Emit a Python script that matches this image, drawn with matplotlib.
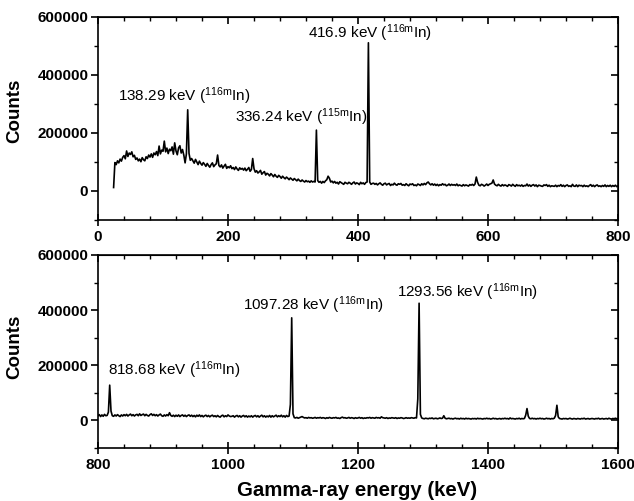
import numpy as np
import matplotlib
matplotlib.use("Agg")
import matplotlib.pyplot as plt
from matplotlib.ticker import MultipleLocator, FuncFormatter

plt.rcParams['font.family'] = ['Liberation Sans', 'DejaVu Sans']
plt.rcParams['font.weight'] = 'bold'
plt.rcParams['mathtext.fontset'] = 'custom'
plt.rcParams['mathtext.rm'] = 'Liberation Sans'
plt.rcParams['mathtext.it'] = 'Liberation Sans'

# top panel: 24 - 800 keV, 2 keV per channel, counts in thousands
low_energy = np.arange(24, 801, 2)
low_counts_k = [
    12, 98, 91, 104, 97, 110, 103, 116, 122, 111,         # 24
    138, 119, 131, 126, 135, 118, 123, 109, 114, 104,     # 44
    110, 101, 115, 108, 104, 118, 112, 124, 117, 128,     # 64
    116, 131, 125, 136, 122, 155, 128, 141, 137, 172,     # 84
    135, 148, 129, 144, 139, 152, 127, 166, 138, 125,     # 104
    149, 156, 131, 143, 124, 97, 128, 280, 130, 106,      # 124
    112, 104, 96, 109, 100, 91, 103, 95, 89, 98,          # 144
    92, 85, 95, 88, 82, 91, 97, 84, 90, 94,               # 164
    124, 88, 83, 90, 79, 86, 92, 78, 84, 80,              # 184
    87, 77, 81, 74, 83, 76, 71, 80, 75, 78,               # 204
    72, 79, 70, 75, 81, 68, 74, 112, 77, 65,              # 224
    70, 62, 66, 71, 58, 63, 67, 55, 61, 58,               # 244
    52, 60, 55, 49, 57, 51, 47, 54, 50, 44,               # 264
    51, 46, 42, 48, 44, 39, 45, 41, 37, 43,               # 284
    39, 35, 41, 36, 33, 38, 34, 31, 36, 32,               # 304
    34, 30, 35, 31, 33, 31, 210, 36, 30, 33,              # 324
    27, 33, 29, 35, 39, 51, 44, 31, 34, 28,               # 344
    33, 27, 30, 24, 32, 29, 26, 23, 30, 27,               # 364
    25, 30, 27, 23, 28, 31, 24, 28, 26, 22,               # 384
    30, 25, 28, 23, 29, 31, 511, 31, 23, 26,              # 404
    27, 23, 26, 21, 25, 28, 23, 20, 25, 27,               # 424
    21, 24, 26, 19, 23, 21, 27, 22, 20, 25,               # 444
    23, 26, 20, 22, 19, 25, 21, 18, 24, 22,               # 464
    25, 19, 21, 18, 24, 22, 19, 25, 21, 26,               # 484
    22, 28, 31, 25, 21, 25, 20, 24, 19, 23,               # 504
    18, 22, 20, 25, 21, 23, 18, 20, 24, 19,               # 524
    23, 20, 22, 19, 24, 18, 21, 19, 17, 22,               # 544
    18, 21, 19, 17, 22, 20, 23, 19, 24, 48,               # 564
    30, 20, 18, 23, 21, 17, 20, 24, 19, 23,               # 584
    25, 27, 38, 24, 20, 18, 23, 19, 17, 22,               # 604
    18, 21, 19, 16, 22, 20, 17, 23, 19, 16,               # 624
    22, 18, 20, 17, 21, 16, 19, 18, 24, 17,               # 644
    21, 16, 20, 22, 17, 21, 15, 20, 19, 17,               # 664
    16, 21, 19, 22, 16, 20, 15, 18, 17, 16,               # 684
    20, 15, 19, 17, 22, 16, 20, 15, 19, 21,               # 704
    16, 18, 15, 23, 17, 16, 21, 15, 20, 18,               # 724
    19, 15, 20, 16, 18, 15, 19, 22, 16, 20,               # 744
    15, 19, 21, 16, 18, 15, 19, 16, 21, 15,               # 764
    19, 16, 20, 15, 19, 16, 20, 15, 18,                   # 784
]

# bottom panel: 800 - 1600 keV, 2 keV per channel, counts in thousands
high_energy = np.arange(800, 1601, 2)
high_counts_k = [
    17, 21, 14, 20, 15, 22, 17, 18, 30, 128,              # 800
    34, 17, 15, 20, 16, 21, 17, 14, 20, 16,               # 820
    21, 17, 22, 16, 20, 23, 17, 21, 16, 20,               # 840
    22, 17, 24, 18, 21, 23, 17, 22, 18, 16,               # 860
    21, 24, 18, 22, 17, 21, 16, 20, 23, 17,               # 880
    15, 20, 16, 21, 17, 28, 18, 15, 19, 14,               # 900
    19, 15, 20, 14, 18, 20, 15, 19, 14, 18,               # 920
    20, 15, 19, 14, 18, 13, 19, 15, 20, 14,               # 940
    18, 13, 17, 19, 14, 18, 13, 17, 19, 14,               # 960
    17, 13, 18, 14, 12, 17, 19, 13, 17, 14,               # 980
    20, 16, 14, 15, 17, 12, 16, 18, 13, 17,               # 1000
    12, 16, 18, 13, 17, 12, 16, 13, 17, 12,               # 1020
    16, 18, 13, 17, 12, 16, 19, 13, 17, 12,               # 1040
    16, 13, 18, 12, 17, 13, 16, 19, 13, 17,               # 1060
    14, 19, 13, 17, 12, 18, 14, 16, 58, 372,              # 1080
    24, 10, 9, 11, 8, 10, 12, 14, 11, 9,                  # 1100
    10, 8, 11, 9, 10, 8, 9, 11, 8, 10,                    # 1120
    9, 11, 8, 10, 9, 7, 10, 8, 11, 9,                     # 1140
    8, 10, 9, 11, 8, 9, 7, 10, 12, 9,                     # 1160
    10, 8, 9, 11, 8, 10, 9, 7, 10, 8,                     # 1180
    9, 11, 8, 10, 7, 9, 8, 10, 9, 11,                     # 1200
    8, 10, 9, 8, 11, 9, 10, 8, 13, 10,                    # 1220
    9, 8, 10, 7, 9, 8, 10, 9, 8, 10,                      # 1240
    7, 9, 8, 10, 9, 7, 8, 10, 8, 9,                       # 1260
    8, 10, 9, 8, 10, 9, 78, 425, 22, 9,                   # 1280
    7, 6, 8, 7, 6, 8, 7, 9, 6, 7,                         # 1300
    8, 6, 7, 9, 7, 8, 17, 8, 6, 7,                        # 1320
    8, 6, 7, 5, 7, 8, 6, 7, 5, 8,                         # 1340
    6, 7, 5, 8, 6, 7, 6, 5, 7, 6,                         # 1360
    7, 5, 8, 6, 7, 6, 5, 7, 6, 8,                         # 1380
    6, 7, 5, 6, 8, 6, 7, 5, 6, 7,                         # 1400
    5, 7, 6, 8, 6, 7, 5, 9, 6, 7,                         # 1420
    6, 5, 7, 6, 8, 5, 7, 6, 7, 19,                        # 1440
    43, 15, 7, 6, 8, 6, 7, 5, 7, 6,                       # 1460
    8, 6, 7, 5, 6, 8, 6, 7, 5, 7,                         # 1480
    6, 8, 18, 55, 13, 7, 6, 5, 7, 6,                      # 1500
    7, 5, 6, 8, 6, 5, 7, 6, 5, 7,                         # 1520
    6, 5, 7, 6, 8, 5, 6, 7, 5, 6,                         # 1540
    7, 6, 5, 7, 6, 8, 5, 6, 7, 5,                         # 1560
    6, 7, 5, 8, 6, 5, 7, 6, 8, 6,                         # 1580
    7,                                                    # 1600
]

low_labels = ['138.29 keV ($^{\\mathregular{116m}}$In)',
              '336.24 keV ($^{\\mathregular{115m}}$In)',
              '416.9 keV ($^{\\mathregular{116m}}$In)']
high_labels = ['818.68 keV ($^{\\mathregular{116m}}$In)',
               '1097.28 keV ($^{\\mathregular{116m}}$In)',
               '1293.56 keV ($^{\\mathregular{116m}}$In)']

fig = plt.figure(figsize=(6.34, 5.01), dpi=100)
ax1 = fig.add_axes([98 / 634, 1 - 220 / 501, 520 / 634, 203 / 501])
ax2 = fig.add_axes([98 / 634, 1 - 448 / 501, 520 / 634, 193 / 501])


def style(ax, xmin, xmax):
    ax.set_xlim(xmin, xmax)
    ax.set_ylim(-100000, 600000)
    for s in ax.spines.values():
        s.set_linewidth(1.2)
    ax.xaxis.set_major_locator(MultipleLocator(200))
    ax.xaxis.set_minor_locator(MultipleLocator(40))
    ax.yaxis.set_major_locator(MultipleLocator(200000))
    ax.yaxis.set_minor_locator(MultipleLocator(100000))
    ax.yaxis.set_major_formatter(FuncFormatter(lambda v, p: '%d' % v))
    ax.tick_params(labelsize=11)
    ax.tick_params(axis='y', which='major', direction='out', length=5, width=1.2, pad=2)
    ax.tick_params(axis='y', which='minor', direction='out', length=3, width=1)
    ax.tick_params(axis='x', which='major', direction='inout', length=8, width=1.2, pad=3)
    ax.tick_params(axis='x', which='minor', direction='in', length=3, width=1)
    top = ax.secondary_xaxis('top')
    top.xaxis.set_major_locator(MultipleLocator(200))
    top.xaxis.set_minor_locator(MultipleLocator(40))
    top.tick_params(which='major', direction='in', length=5, width=1.2, labeltop=False)
    top.tick_params(which='minor', direction='in', length=3, width=1)
    right = ax.secondary_yaxis('right')
    right.yaxis.set_major_locator(MultipleLocator(200000))
    right.yaxis.set_minor_locator(MultipleLocator(100000))
    right.tick_params(which='major', direction='in', length=5, width=1.2, labelright=False)
    right.tick_params(which='minor', direction='in', length=3, width=1)


ax1.plot(low_energy, np.array(low_counts_k) * 1000, color='black', lw=1.2)
ax2.plot(high_energy, np.array(high_counts_k) * 1000, color='black', lw=1.2)
style(ax1, 0, 800)
style(ax2, 800, 1600)

for lab, (x, y) in zip(low_labels, [(31, 328000), (211, 255000), (323, 543000)]):
    ax1.text(x, y, lab, fontsize=11, fontweight='normal', ha='left', va='center')
for lab, (x, y) in zip(high_labels, [(815, 183000), (1023, 418000), (1260, 466000)]):
    ax2.text(x, y, lab, fontsize=11, fontweight='normal', ha='left', va='center')

fig.text(15 / 634, 1 - 111 / 501, 'Counts', rotation=90, fontsize=13.5,
         fontweight='bold', ha='center', va='center')
fig.text(15 / 634, 1 - 347 / 501, 'Counts', rotation=90, fontsize=13.5,
         fontweight='bold', ha='center', va='center')
fig.text(357 / 634, 1 - 490 / 501, 'Gamma-ray energy (keV)', fontsize=14.7,
         fontweight='bold', ha='center', va='center')

fig.savefig('out.png', dpi=100)
